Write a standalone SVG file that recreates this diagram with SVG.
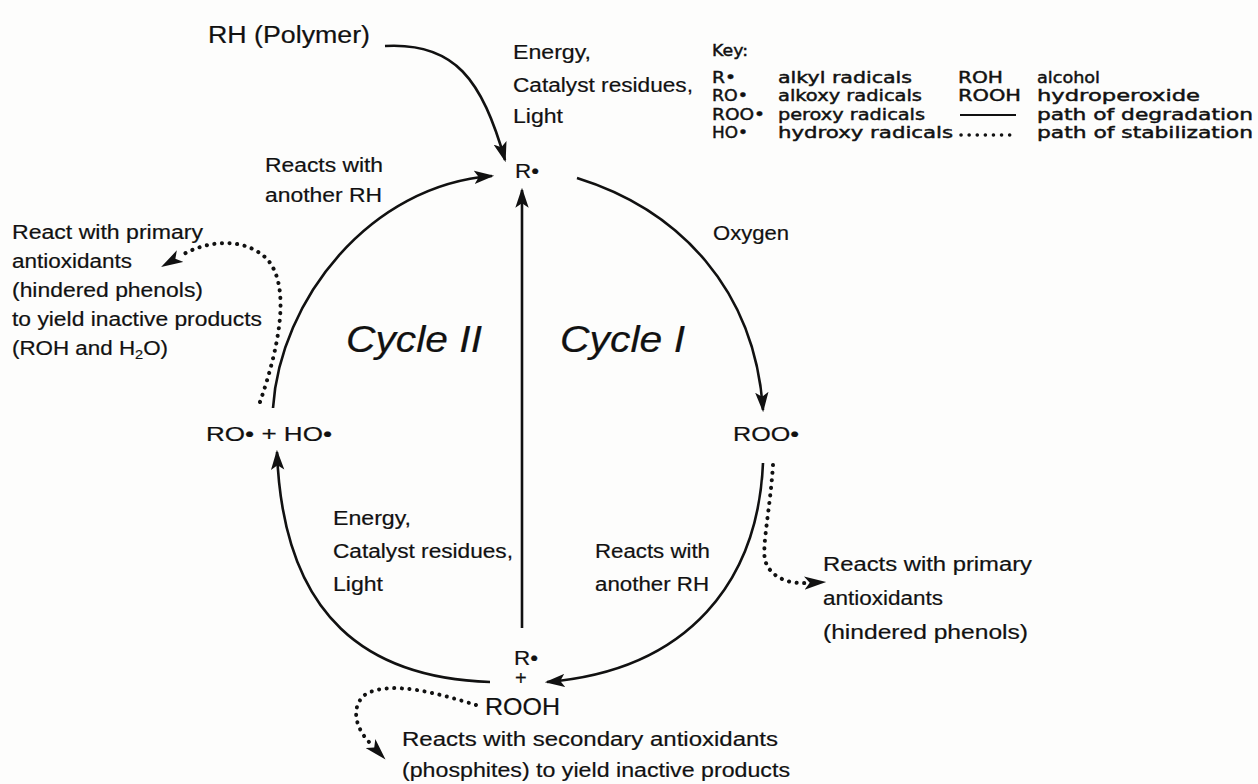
<svg xmlns="http://www.w3.org/2000/svg" width="1258" height="784" viewBox="0 0 1258 784">
<defs>
<style>
text{font-family:"Liberation Sans",Arial,sans-serif;fill:#111;stroke:#111;stroke-width:0.2px;}
.lbl{font-size:20px;}
.r{font-size:21px;}
.big{font-size:23px;}
.cyc{font-size:36px;font-style:italic;}
.key{font-family:"DejaVu Sans",sans-serif;font-size:16px;stroke:#111;stroke-width:0.45px;}
.solid{fill:none;stroke:#111;stroke-width:2.6;}
.dot{fill:none;stroke:#111;stroke-width:4;stroke-linecap:round;stroke-dasharray:0.1 7.5;}
</style>
<marker id="ah" markerUnits="userSpaceOnUse" markerWidth="20" markerHeight="14" refX="16" refY="6" orient="auto" viewBox="0 0 18 12">
<path d="M0,0 L18,6 L0,12 L4,6 Z" fill="#111"/>
</marker>
<marker id="ahd" markerUnits="userSpaceOnUse" markerWidth="22" markerHeight="14" refX="18" refY="6" orient="auto" viewBox="0 0 20 12">
<path d="M0,0 L20,6 L0,12 L5,6 Z" fill="#111"/>
</marker>
</defs>
<rect width="1258" height="784" fill="#fdfdfc"/>

<g id="connectors">
<path class="solid" d="M385,46 C455,42 482,80 505,160" marker-end="url(#ah)"/>
<path class="solid" d="M522,628 L522,190" marker-end="url(#ah)"/>
<path class="solid" d="M577,178 C680,210 755,290 763,410" marker-end="url(#ah)"/>
<path class="solid" d="M763,463 C758,580 690,670 547,682" marker-end="url(#ah)"/>
<path class="solid" d="M490,682 C370,678 283,620 277,452" marker-end="url(#ah)"/>
<path class="solid" d="M273,408 C280,300 370,185 492,176" marker-end="url(#ah)"/>
<path class="dot" d="M260,402 C278,350 292,287 267,259 C246,238 210,239 182,255"/>
<path d="M182,255 L163,266" fill="none" stroke="none" marker-end="url(#ahd)"/>
<path class="dot" d="M773,465 C770,510 762,545 765,560 C770,578 790,584 805,583"/>
<path d="M805,583 L824,582" fill="none" stroke="none" marker-end="url(#ahd)"/>
<path class="dot" d="M476,705 C440,694 392,680 366,694 C350,706 355,728 370,743"/>
<path d="M370,743 L384,758" fill="none" stroke="none" marker-end="url(#ahd)"/>
</g>

<g id="node-rh"><text class="big" x="208" y="43" textLength="162" lengthAdjust="spacingAndGlyphs">RH (Polymer)</text></g>

<g id="label-init">
<text class="lbl" x="513" y="59" textLength="78" lengthAdjust="spacingAndGlyphs">Energy,</text>
<text class="lbl" x="513" y="92" textLength="180" lengthAdjust="spacingAndGlyphs">Catalyst residues,</text>
<text class="lbl" x="513" y="123" textLength="50" lengthAdjust="spacingAndGlyphs">Light</text>
</g>

<g id="key">
<text class="key" x="712" y="56" textLength="36" lengthAdjust="spacingAndGlyphs">Key:</text>
<text class="key" x="712" y="83" textLength="24" lengthAdjust="spacingAndGlyphs">R•</text>
<text class="key" x="778" y="83" textLength="134" lengthAdjust="spacingAndGlyphs">alkyl radicals</text>
<text class="key" x="958" y="83" textLength="45" lengthAdjust="spacingAndGlyphs">ROH</text>
<text class="key" x="1037" y="83" textLength="63" lengthAdjust="spacingAndGlyphs">alcohol</text>
<text class="key" x="712" y="101" textLength="36" lengthAdjust="spacingAndGlyphs">RO•</text>
<text class="key" x="778" y="101" textLength="144" lengthAdjust="spacingAndGlyphs">alkoxy radicals</text>
<text class="key" x="958" y="101" textLength="63" lengthAdjust="spacingAndGlyphs">ROOH</text>
<text class="key" x="1037" y="101" textLength="163" lengthAdjust="spacingAndGlyphs">hydroperoxide</text>
<text class="key" x="712" y="120" textLength="53" lengthAdjust="spacingAndGlyphs">ROO•</text>
<text class="key" x="778" y="120" textLength="147" lengthAdjust="spacingAndGlyphs">peroxy radicals</text>
<line x1="960" y1="115" x2="1016" y2="115" stroke="#111" stroke-width="2"/>
<text class="key" x="1037" y="120" textLength="216" lengthAdjust="spacingAndGlyphs">path of degradation</text>
<text class="key" x="712" y="138" textLength="36" lengthAdjust="spacingAndGlyphs">HO•</text>
<text class="key" x="778" y="138" textLength="175" lengthAdjust="spacingAndGlyphs">hydroxy radicals</text>
<line x1="961" y1="135" x2="1016" y2="135" stroke="#111" stroke-width="3.5" stroke-linecap="round" stroke-dasharray="0.1 8"/>
<text class="key" x="1037" y="138" textLength="216" lengthAdjust="spacingAndGlyphs">path of stabilization</text>
</g>

<g id="node-r-top"><text class="r" x="515" y="178" textLength="24" lengthAdjust="spacingAndGlyphs">R•</text></g>

<g id="label-reacts-top">
<text class="lbl" x="265" y="172" textLength="118" lengthAdjust="spacingAndGlyphs">Reacts with</text>
<text class="lbl" x="265" y="202" textLength="117" lengthAdjust="spacingAndGlyphs">another RH</text>
</g>

<g id="label-oxygen"><text class="lbl" x="713" y="240" textLength="76" lengthAdjust="spacingAndGlyphs">Oxygen</text></g>

<g id="label-primary-left">
<text class="lbl" x="12" y="239" textLength="191" lengthAdjust="spacingAndGlyphs">React with primary</text>
<text class="lbl" x="12" y="268" textLength="120" lengthAdjust="spacingAndGlyphs">antioxidants</text>
<text class="lbl" x="12" y="297" textLength="191" lengthAdjust="spacingAndGlyphs">(hindered phenols)</text>
<text class="lbl" x="12" y="326" textLength="250" lengthAdjust="spacingAndGlyphs">to yield inactive products</text>
<text class="lbl" x="12" y="355" textLength="156" lengthAdjust="spacingAndGlyphs">(ROH and H<tspan style="font-size:13px" dy="4">2</tspan><tspan dy="-4">O)</tspan></text>
</g>

<g id="label-cycle2"><text class="cyc" x="346" y="352" textLength="136" lengthAdjust="spacingAndGlyphs">Cycle II</text></g>
<g id="label-cycle1"><text class="cyc" x="560" y="352" textLength="125" lengthAdjust="spacingAndGlyphs">Cycle I</text></g>

<g id="node-ro-ho"><text class="r" x="206" y="441" textLength="126" lengthAdjust="spacingAndGlyphs">RO• + HO•</text></g>
<g id="node-roo"><text class="r" x="733" y="441" textLength="66" lengthAdjust="spacingAndGlyphs">ROO•</text></g>

<g id="label-energy-low">
<text class="lbl" x="333" y="525" textLength="78" lengthAdjust="spacingAndGlyphs">Energy,</text>
<text class="lbl" x="333" y="558" textLength="180" lengthAdjust="spacingAndGlyphs">Catalyst residues,</text>
<text class="lbl" x="333" y="591" textLength="50" lengthAdjust="spacingAndGlyphs">Light</text>
</g>

<g id="label-reacts-low">
<text class="lbl" x="595" y="558" textLength="115" lengthAdjust="spacingAndGlyphs">Reacts with</text>
<text class="lbl" x="595" y="591" textLength="114" lengthAdjust="spacingAndGlyphs">another RH</text>
</g>

<g id="label-primary-right">
<text class="lbl" x="823" y="571" textLength="209" lengthAdjust="spacingAndGlyphs">Reacts with primary</text>
<text class="lbl" x="823" y="605" textLength="120" lengthAdjust="spacingAndGlyphs">antioxidants</text>
<text class="lbl" x="823" y="639" textLength="205" lengthAdjust="spacingAndGlyphs">(hindered phenols)</text>
</g>

<g id="node-r-rooh">
<text class="r" x="514" y="665" textLength="24" lengthAdjust="spacingAndGlyphs">R•</text>
<text class="lbl" x="515" y="685">+</text>
<text class="big" x="485" y="715" style="font-size:24px" textLength="75" lengthAdjust="spacingAndGlyphs">ROOH</text>
</g>

<g id="label-secondary">
<text class="lbl" x="402" y="746" textLength="376" lengthAdjust="spacingAndGlyphs">Reacts with secondary antioxidants</text>
<text class="lbl" x="402" y="777" textLength="388" lengthAdjust="spacingAndGlyphs">(phosphites) to yield inactive products</text>
</g>
</svg>
